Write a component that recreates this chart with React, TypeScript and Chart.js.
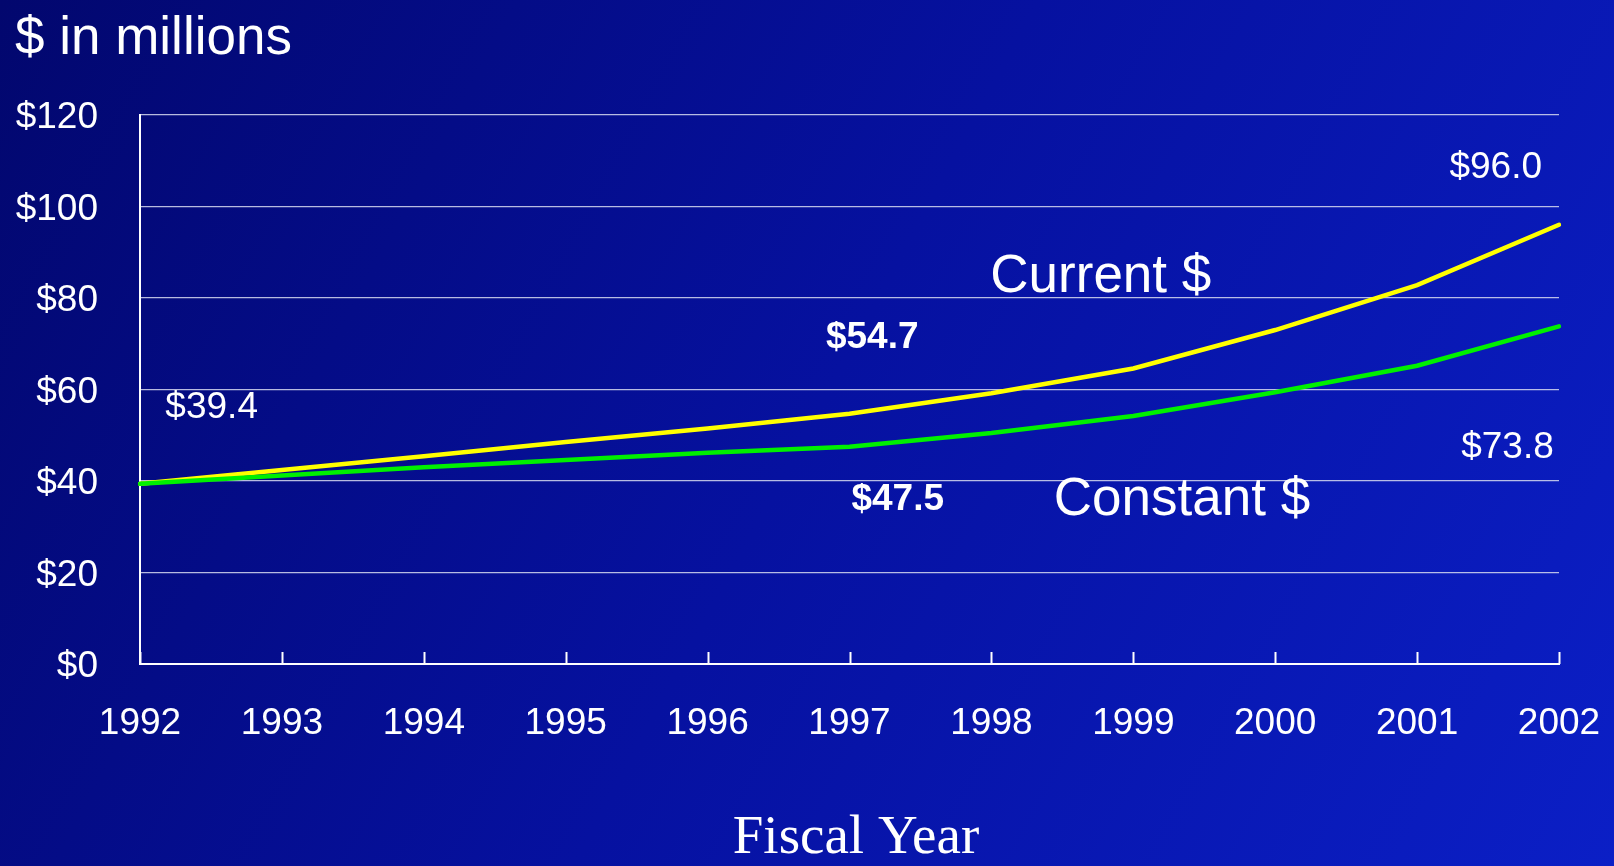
import React, { useEffect, useRef } from "react";
import { Chart, registerables } from "chart.js";

Chart.register(...registerables);

// ---------- data ----------
const years = ["1992", "1993", "1994", "1995", "1996", "1997", "1998", "1999", "2000", "2001", "2002"];
const currentDollars = [39.4, 42.4, 45.4, 48.5, 51.5, 54.7, 59.2, 64.6, 73.0, 82.8, 96.0];
const constantDollars = [39.4, 41.2, 43.0, 44.6, 46.2, 47.5, 50.5, 54.2, 59.4, 65.2, 73.8];
const yMin = 0;
const yMax = 120;
const yStep = 20;
const seriesNames = ["Current $", "Constant $"];
const chartTitle = "$ in millions";
const xAxisTitle = "Fiscal Year";
const valueLabels = ["$39.4", "$54.7", "$47.5", "$96.0", "$73.8"];

// annotation anchors (category index, value) and styling
const valueLabelAnchors: [number, number, boolean][] = [
  [0.505, 56.0, false],
  [5.16, 71.2, true],
  [5.34, 35.8, true],
  [9.554, 108.4, false],
  [9.637, 47.2, false],
];
const seriesNameAnchors: [number, number][] = [
  [6.771, 84.5],
  [7.343, 35.8],
];

const W = 1614;
const H = 866;
const SANS = "'Liberation Sans', Arial, sans-serif";
const SERIF = "'Liberation Serif', 'Times New Roman', serif";

const backgroundPlugin = {
  id: "bgGradient",
  beforeDraw(chart: any) {
    const { ctx, width, height } = chart;
    ctx.save();
    const g = ctx.createLinearGradient(0, 0, width, height);
    g.addColorStop(0, "#02076e");
    g.addColorStop(0.5, "#0611a0");
    g.addColorStop(1, "#0b1fc6");
    ctx.fillStyle = g;
    ctx.fillRect(0, 0, width, height);
    ctx.restore();
  },
};

const decorPlugin = {
  id: "decor",
  afterDraw(chart: any) {
    const { ctx, chartArea } = chart;
    const xs = chart.scales.x;
    const ys = chart.scales.y;
    ctx.save();
    // inward tick marks on x axis
    ctx.strokeStyle = "#ffffff";
    ctx.lineWidth = 2;
    for (let i = 0; i < years.length; i++) {
      const px = Math.round(xs.getPixelForValue(i)) + 0.5;
      ctx.beginPath();
      ctx.moveTo(px, chartArea.bottom);
      ctx.lineTo(px, chartArea.bottom - 12);
      ctx.stroke();
    }
    ctx.fillStyle = "#ffffff";
    // chart title
    ctx.textAlign = "left";
    ctx.textBaseline = "alphabetic";
    ctx.font = `53px ${SANS}`;
    ctx.fillText(chartTitle, 15, 54);
    // x axis title
    ctx.textAlign = "center";
    ctx.font = `55px ${SERIF}`;
    ctx.fillText(xAxisTitle, 856, 853);
    // value labels
    ctx.textBaseline = "middle";
    valueLabels.forEach((t, i) => {
      const [xi, yv, bold] = valueLabelAnchors[i];
      ctx.font = `${bold ? "bold " : ""}37px ${SANS}`;
      ctx.fillText(t, xs.getPixelForValue(xi), ys.getPixelForValue(yv));
    });
    // series names
    ctx.font = `53px ${SANS}`;
    seriesNames.forEach((t, i) => {
      const [xi, yv] = seriesNameAnchors[i];
      ctx.fillText(t, xs.getPixelForValue(xi), ys.getPixelForValue(yv));
    });
    ctx.restore();
  },
};

export default function App() {
  const ref = useRef<HTMLCanvasElement | null>(null);

  useEffect(() => {
    document.body.style.margin = "0";
    const canvas = ref.current;
    if (!canvas) return;
    const chart = new Chart(canvas, {
      type: "line",
      data: {
        labels: years,
        datasets: [
          {
            label: seriesNames[1],
            data: constantDollars,
            borderColor: "#00f000",
            borderWidth: 4.5,
            pointRadius: 0,
            tension: 0,
            borderCapStyle: "round",
            fill: false,
          },
          {
            label: seriesNames[0],
            data: currentDollars,
            borderColor: "#ffff00",
            borderWidth: 4.5,
            pointRadius: 0,
            tension: 0,
            borderCapStyle: "round",
            fill: false,
          },
        ],
      },
      options: {
        animation: false,
        responsive: false,
        devicePixelRatio: 1,
        layout: { padding: { left: 0, right: 55, top: 115, bottom: 0 } },
        plugins: {
          legend: { display: false },
          tooltip: { enabled: false },
          title: { display: false },
        },
        scales: {
          x: {
            type: "category",
            offset: false,
            grid: { display: false, drawTicks: false },
            border: { display: true, color: "#ffffff", width: 2 },
            ticks: {
              color: "#ffffff",
              font: { family: SANS, size: 37 },
              padding: 38,
              maxRotation: 0,
              autoSkip: false,
            },
            afterFit(scale: any) {
              scale.height = 202;
              scale.paddingLeft = 0;
              scale.paddingRight = 0;
            },
          },
          y: {
            min: yMin,
            max: yMax,
            ticks: {
              stepSize: yStep,
              color: "#ffffff",
              font: { family: SANS, size: 37, lineHeight: 0.16 },
              padding: 42,
              callback: (v: any) => ["", "$" + v],
            },
            grid: {
              drawTicks: false,
              color: (c: any) => (c.tick && c.tick.value === 0 ? "#ffffff" : "rgba(215,218,240,0.85)"),
              lineWidth: (c: any) => (c.tick && c.tick.value === 0 ? 2 : 1.2),
            },
            border: { display: true, color: "#ffffff", width: 2 },
            afterFit(scale: any) {
              scale.width = 140;
            },
          },
        },
      },
      plugins: [backgroundPlugin, decorPlugin],
    });
    return () => chart.destroy();
  }, []);

  return (
    <div style={{ position: "absolute", left: 0, top: 0, width: W, height: H }}>
      <canvas ref={ref} width={W} height={H} style={{ display: "block", width: W, height: H }} />
    </div>
  );
}
